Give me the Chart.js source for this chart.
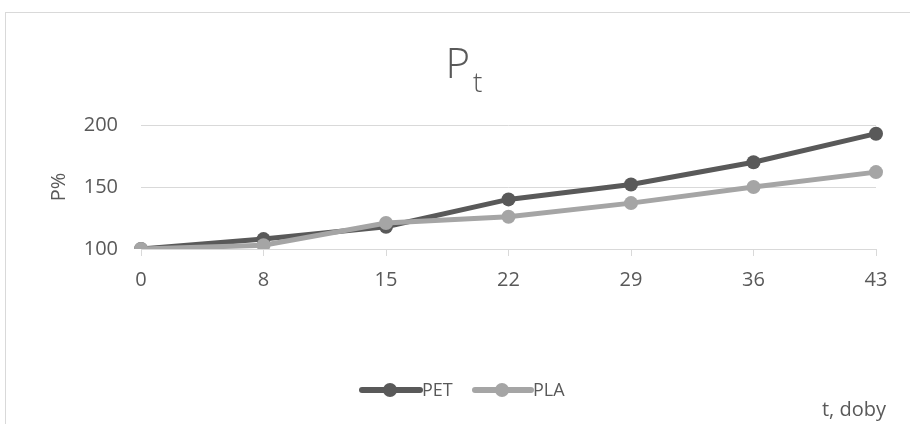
<!DOCTYPE html>
<html>
<head>
<meta charset="utf-8">
<script src="https://cdn.jsdelivr.net/npm/chart.js@4/dist/chart.umd.min.js"></script>
<style>
  html, body { margin: 0; padding: 0; background: #ffffff; }
  #wrap { width: 910px; height: 424px; position: relative; }
</style>
</head>
<body>
<div id="wrap"><canvas id="c" width="910" height="424"></canvas></div>
<script>
// Sampling times (days) and the relative value P% for each material
const days = ['0', '8', '15', '22', '29', '36', '43'];
const petValues = [100, 108, 118, 140, 152, 170, 193];
const plaValues = [100, 103, 121, 126, 137, 150, 162];
const yTicks = [100, 150, 200];

const seriesNames = ['PET', 'PLA'];
const seriesColors = ['#595959', '#a5a5a5'];
const textColor = '#595959';
const gridColor = '#d9d9d9';
const fontFamily = '"Open Sans", "Noto Sans", sans-serif';

// Frame, subscripted title, y-axis caption, legend and the x-axis caption
const decorations = {
  id: 'decorations',
  beforeDraw(chart) {
    const ctx = chart.ctx;
    ctx.save();
    ctx.fillStyle = '#ffffff';
    ctx.fillRect(0, 0, chart.width, chart.height);
    ctx.strokeStyle = gridColor;
    ctx.lineWidth = 1;
    ctx.strokeRect(5.5, 12.5, chart.width, chart.height);
    ctx.restore();
  },
  afterDraw(chart) {
    const ctx = chart.ctx;
    ctx.save();
    ctx.fillStyle = textColor;
    ctx.textBaseline = 'alphabetic';
    // title: P with subscript t
    ctx.font = '300 42px ' + fontFamily;
    ctx.textAlign = 'left';
    const pw = ctx.measureText('P').width;
    ctx.font = '300 28px ' + fontFamily;
    const tw = ctx.measureText('t').width;
    const startX = 464 - (pw + tw + 3) / 2;
    ctx.font = '300 42px ' + fontFamily;
    ctx.fillText('P', startX, 78);
    ctx.font = '300 28px ' + fontFamily;
    ctx.fillText('t', startX + pw + 3, 92);

    // y-axis caption, rotated
    ctx.save();
    ctx.translate(59, 187);
    ctx.rotate(-Math.PI / 2);
    ctx.font = '20px ' + fontFamily;
    ctx.textAlign = 'center';
    ctx.textBaseline = 'middle';
    ctx.fillText('P%', 0, 0);
    ctx.restore();

    // legend entries: line with a marker in the middle
    const legend = [
      { x0: 362, x1: 420, cx: 390, tx: 422 },
      { x0: 475, x1: 531, cx: 502, tx: 533 }
    ];
    const ly = 390;
    legend.forEach((l, i) => {
      ctx.strokeStyle = seriesColors[i];
      ctx.fillStyle = seriesColors[i];
      ctx.lineWidth = 6;
      ctx.lineCap = 'round';
      ctx.beginPath();
      ctx.moveTo(l.x0, ly);
      ctx.lineTo(l.x1, ly);
      ctx.stroke();
      ctx.beginPath();
      ctx.arc(l.cx, ly, 7, 0, Math.PI * 2);
      ctx.fill();
      ctx.fillStyle = textColor;
      ctx.font = '18px ' + fontFamily;
      ctx.textBaseline = 'middle';
      ctx.textAlign = 'left';
      ctx.fillText(seriesNames[i], l.tx, ly + 1);
    });

    // x-axis caption
    ctx.font = '20px ' + fontFamily;
    ctx.textAlign = 'right';
    ctx.textBaseline = 'middle';
    ctx.fillText('t, doby', 886, 410);
    ctx.restore();
  }
};

new Chart(document.getElementById('c'), {
  type: 'line',
  data: {
    labels: days,
    datasets: [
      {
        label: seriesNames[0],
        data: petValues,
        borderColor: seriesColors[0],
        backgroundColor: seriesColors[0],
        borderWidth: 5,
        pointRadius: 7,
        pointBorderWidth: 0,
        order: 1
      },
      {
        label: seriesNames[1],
        data: plaValues,
        borderColor: seriesColors[1],
        backgroundColor: seriesColors[1],
        borderWidth: 5,
        pointRadius: 7,
        pointBorderWidth: 0,
        order: 0
      }
    ]
  },
  options: {
    responsive: false,
    animation: false,
    devicePixelRatio: 1,
    layout: { padding: { top: 125, right: 34, bottom: 0, left: 0 } },
    plugins: {
      legend: { display: false },
      title: { display: false },
      tooltip: { enabled: false }
    },
    scales: {
      x: {
        offset: false,
        grid: {
          drawOnChartArea: false,
          drawTicks: true,
          tickLength: 7,
          color: gridColor
        },
        border: { display: true, color: gridColor, width: 1 },
        ticks: {
          color: textColor,
          font: { family: fontFamily, size: 20 },
          padding: 12,
          maxRotation: 0
        },
        afterFit(scale) { scale.height = 424 - 249; }
      },
      y: {
        min: 100,
        max: 200,
        afterBuildTicks(scale) { scale.ticks = yTicks.map(v => ({ value: v })); },
        grid: { color: gridColor, drawTicks: false, lineWidth: 1 },
        border: { display: false },
        ticks: {
          color: textColor,
          font: { family: fontFamily, size: 20 },
          padding: 23
        },
        afterFit(scale) { scale.width = 141; }
      }
    }
  },
  plugins: [decorations]
});
</script>
</body>
</html>
